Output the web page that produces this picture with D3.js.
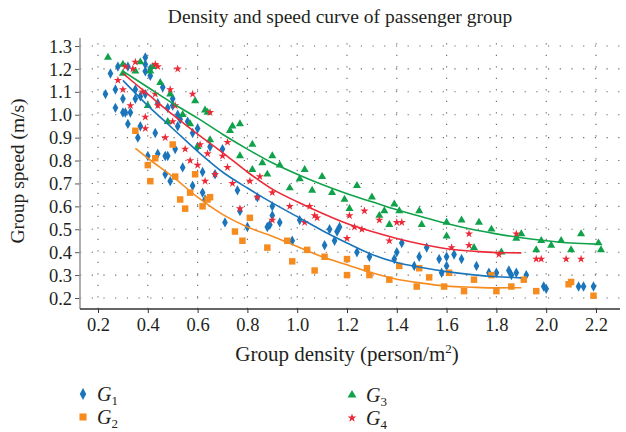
<!DOCTYPE html>
<html>
<head>
<meta charset="UTF-8" />
<title>Density and speed curve of passenger group</title>
<script src="https://d3js.org/d3.v7.min.js"></script>
<style>
  body { margin: 0; background: #fff; }
  text { font-family: "Liberation Serif", "DejaVu Serif", serif; fill: #231f20; }
</style>
</head>
<body>
<svg id="chart" width="626" height="432"></svg>
<script>
// tick values
const densityTicks = [0.2, 0.4, 0.6, 0.8, 1.0, 1.2, 1.4, 1.6, 1.8, 2.0, 2.2];
const speedTicks = [0.2, 0.3, 0.4, 0.5, 0.6, 0.7, 0.8, 0.9, 1.0, 1.1, 1.2, 1.3];

// measured points [density, speed]
const g1 = [[0.23,1.09],[0.25,1.18],[0.27,1.03],[0.27,1.11],[0.28,1.21],[0.30,1.07],[0.30,1.01],[0.31,1.01],[0.33,1.01],[0.32,0.96],
  [0.32,1.21],[0.35,1.11],[0.35,1.07],[0.36,0.90],[0.37,0.95],[0.37,1.08],[0.39,1.25],[0.39,1.22],[0.39,1.19],[0.39,1.09],
  [0.40,0.82],[0.41,1.20],[0.41,1.17],[0.43,0.92],[0.44,0.83],[0.44,1.05],[0.46,1.12],[0.47,0.82],[0.48,0.82],[0.48,1.03],
  [0.50,1.07],[0.50,1.04],[0.51,0.85],[0.52,1.00],[0.52,0.95],[0.53,0.98],[0.54,0.77],[0.56,0.97],[0.58,0.92],[0.60,0.94],
  [0.60,0.86],[0.62,0.75],[0.65,0.86],[0.67,0.74],[0.70,0.85],[0.47,0.74],[0.49,0.71],[0.58,0.69],[0.62,0.66],[0.63,0.63],
  [0.71,0.53],[0.76,0.67],[0.77,0.58],[0.80,0.51],[0.84,0.64],[0.88,0.51],[0.89,0.52],[0.90,0.60],[0.90,0.56],[0.93,0.53],
  [1.01,0.54],[0.98,0.45],[1.11,0.43],[1.13,0.50],[1.15,0.45],[1.16,0.49],[1.17,0.51],[1.24,0.40],[1.29,0.38],[1.39,0.37],
  [1.40,0.40],[1.42,0.44],[1.47,0.34],[1.49,0.38],[1.52,0.42],[1.57,0.37],[1.58,0.31],[1.60,0.38],[1.60,0.34],[1.63,0.39],
  [1.66,0.37],[1.72,0.34],[1.77,0.31],[1.80,0.31],[1.85,0.32],[1.86,0.30],[1.88,0.31],[1.92,0.30],[1.99,0.25],[2.00,0.24],
  [2.13,0.25],[2.15,0.25],[2.19,0.25]];
const g2 = [[0.35,0.93],[0.50,0.87],[0.43,0.81],[0.40,0.78],[0.59,0.74],[0.51,0.73],[0.41,0.71],[0.57,0.66],[0.53,0.63],[0.55,0.59],
  [0.62,0.60],[0.64,0.63],[0.65,0.64],[0.81,0.55],[0.75,0.49],[0.78,0.45],[0.88,0.42],[0.96,0.45],[0.98,0.36],[1.04,0.41],
  [1.07,0.32],[1.11,0.38],[1.20,0.37],[1.20,0.30],[1.28,0.33],[1.29,0.30],[1.37,0.28],[1.41,0.34],[1.48,0.25],[1.49,0.33],
  [1.53,0.29],[1.59,0.25],[1.61,0.31],[1.67,0.23],[1.71,0.28],[1.78,0.30],[1.80,0.23],[1.86,0.25],[1.91,0.28],[1.96,0.23],
  [2.09,0.26],[2.10,0.27],[2.19,0.21]];
const g3 = [[0.24,1.25],[0.30,1.22],[0.30,1.18],[0.35,1.19],[0.37,1.23],[0.41,1.19],[0.42,1.21],[0.45,1.14],[0.49,1.09],[0.40,1.04],
  [0.59,1.06],[0.54,1.00],[0.48,0.97],[0.57,0.96],[0.63,1.02],[0.64,1.01],[0.65,0.89],[0.73,0.93],[0.74,0.95],[0.77,0.96],
  [0.60,0.86],[0.77,0.82],[0.82,0.87],[0.86,0.79],[0.90,0.82],[0.82,0.76],[0.88,0.74],[0.93,0.78],[0.97,0.68],[1.01,0.72],
  [1.03,0.76],[1.06,0.67],[1.10,0.73],[1.14,0.66],[1.19,0.63],[1.21,0.59],[1.24,0.69],[1.30,0.64],[1.33,0.56],[1.35,0.58],
  [1.37,0.52],[1.39,0.61],[1.41,0.58],[1.49,0.58],[1.50,0.52],[1.60,0.53],[1.60,0.47],[1.66,0.54],[1.71,0.42],[1.73,0.53],
  [1.78,0.50],[1.82,0.40],[1.88,0.46],[1.90,0.48],[1.96,0.41],[1.98,0.45],[2.02,0.43],[2.06,0.45],[2.10,0.41],[2.14,0.48],
  [2.21,0.44],[2.22,0.41]];
const g4 = [[0.31,1.21],[0.28,1.15],[0.30,1.11],[0.34,1.20],[0.35,1.23],[0.33,1.04],[0.38,1.10],[0.39,0.99],[0.39,0.94],[0.43,1.22],
  [0.44,1.21],[0.43,1.09],[0.44,1.04],[0.52,1.20],[0.49,1.11],[0.51,1.04],[0.50,0.97],[0.47,0.90],[0.55,0.85],[0.57,0.80],
  [0.58,1.09],[0.65,1.01],[0.60,0.78],[0.61,0.87],[0.64,0.83],[0.67,0.74],[0.72,0.88],[0.72,0.77],[0.70,0.82],[0.85,0.73],
  [0.63,0.71],[0.74,0.70],[0.81,0.71],[0.90,0.66],[0.77,0.59],[0.90,0.54],[0.84,0.64],[0.97,0.60],[1.05,0.60],[1.07,0.56],
  [1.08,0.55],[1.21,0.56],[1.27,0.58],[1.33,0.54],[1.40,0.53],[1.42,0.53],[1.03,0.53],[1.20,0.46],[1.23,0.51],[1.26,0.50],
  [1.37,0.45],[1.69,0.48],[1.69,0.43],[1.62,0.42],[1.81,0.39],[1.88,0.48],[1.96,0.37],[1.98,0.37],[2.08,0.37],[2.14,0.37]];

// fitted curves
const fitDensity = [0.3, 0.4, 0.5, 0.6, 0.7, 0.8, 0.9, 1.0, 1.1, 1.2, 1.3, 1.4, 1.5, 1.6, 1.7, 1.8, 1.9];
const fit1 = [1.15, 1.04, 0.94, 0.84, 0.75, 0.68, 0.615, 0.555, 0.495, 0.44, 0.39, 0.355, 0.333, 0.315, 0.302, 0.293, 0.288];
const fit4 = [1.18, 1.09, 1.00, 0.915, 0.835, 0.75, 0.675, 0.62, 0.57, 0.525, 0.49, 0.46, 0.435, 0.415, 0.405, 0.398, 0.397];
const fit2Density = [0.35, 0.4, 0.5, 0.6, 0.7, 0.8, 0.9, 1.0, 1.1, 1.2, 1.3, 1.4, 1.5, 1.6, 1.7, 1.8, 1.9];
const fit2 = [0.853, 0.81, 0.73, 0.64, 0.565, 0.51, 0.47, 0.425, 0.38, 0.345, 0.31, 0.282, 0.265, 0.252, 0.247, 0.244, 0.245];
const fit3Density = [0.3, 0.4, 0.5, 0.6, 0.7, 0.8, 0.9, 1.0, 1.1, 1.2, 1.3, 1.4, 1.5, 1.6, 1.7, 1.8, 1.9, 2.0, 2.1, 2.2];
const fit3 = [1.19, 1.12, 1.05, 0.985, 0.915, 0.85, 0.79, 0.74, 0.695, 0.655, 0.62, 0.585, 0.555, 0.525, 0.50, 0.48, 0.463, 0.45, 0.44, 0.435];

const blue = "#1b75bb", orange = "#f68b1f", green = "#0fa24a", red = "#ec2a37";
const serif = "'Liberation Serif', 'DejaVu Serif', serif";

const svg = d3.select("#chart");
const x = d3.scaleLinear().domain([0.2, 2.2]).range([98, 596]);
const y = d3.scaleLinear().domain([0.2, 1.3]).range([298, 46]);
const plotLeft = 80, plotRight = 620, plotTop = 40, plotBottom = 309;

// dotted grid
svg.append("g").selectAll("line").data(speedTicks).join("line")
  .attr("x1", plotLeft).attr("x2", plotRight).attr("y1", d => y(d)).attr("y2", d => y(d))
  .attr("stroke", "#666").attr("stroke-width", 1.1).attr("stroke-dasharray", "1.2,10.5");
svg.append("g").selectAll("line").data(densityTicks).join("line")
  .attr("x1", d => x(d)).attr("x2", d => x(d)).attr("y1", plotBottom).attr("y2", plotTop)
  .attr("stroke", "#666").attr("stroke-width", 1.1).attr("stroke-dasharray", "1.2,10.3");

// axes
const yAxis = svg.append("g").attr("transform", `translate(${plotLeft},0)`)
  .call(d3.axisLeft(y).tickValues(speedTicks).tickFormat(d3.format(".1f")).tickSize(5).tickSizeOuter(0))
  .attr("font-family", serif).attr("font-size", 18.5);
yAxis.select(".domain").remove();
yAxis.selectAll(".tick line").attr("stroke", "#555");
yAxis.selectAll(".tick text").attr("x", -8).attr("dy", "0.33em").attr("fill", "#231f20");
svg.append("line").attr("x1", plotLeft).attr("x2", plotLeft).attr("y1", plotTop - 2).attr("y2", plotBottom)
  .attr("stroke", "#9a9a9a").attr("stroke-width", 1.6);

const xAxis = svg.append("g").attr("transform", `translate(0,${plotBottom})`)
  .call(d3.axisBottom(x).tickValues(densityTicks).tickFormat(d3.format(".1f")).tickSize(4).tickSizeOuter(0))
  .attr("font-family", serif).attr("font-size", 18.5);
xAxis.select(".domain").remove();
xAxis.selectAll(".tick line").attr("stroke", "#333");
xAxis.selectAll(".tick text").attr("y", 9).attr("fill", "#231f20");
svg.append("line").attr("x1", plotLeft).attr("x2", plotRight).attr("y1", plotBottom).attr("y2", plotBottom)
  .attr("stroke", "#333").attr("stroke-width", 1.4);

// symbols
const tallDiamond = {
  draw(ctx, size) {
    const h = Math.sqrt(size) * 0.75, w = h * 0.55;
    ctx.moveTo(0, -h); ctx.lineTo(w, 0); ctx.lineTo(0, h); ctx.lineTo(-w, 0); ctx.closePath();
  }
};
const groups = [
  { data: g1, color: blue, type: tallDiamond, size: 48 },
  { data: g2, color: orange, type: d3.symbolSquare, size: 42 },
  { data: g3, color: green, type: d3.symbolTriangle, size: 28 },
  { data: g4, color: red, type: d3.symbolStar, size: 21 }
];
groups.forEach(g => {
  svg.append("g").selectAll("path").data(g.data).join("path")
    .attr("transform", d => `translate(${x(d[0])},${y(d[1])})`)
    .attr("d", d3.symbol().type(g.type).size(g.size))
    .attr("fill", g.color);
});

// fitted lines
const line = d3.line().x(d => x(d[0])).y(d => y(d[1])).curve(d3.curveMonotoneX);
const fits = [
  { xs: fitDensity, ys: fit1, color: blue },
  { xs: fit2Density, ys: fit2, color: orange },
  { xs: fit3Density, ys: fit3, color: green },
  { xs: fitDensity, ys: fit4, color: red }
];
fits.forEach(f => {
  svg.append("path").attr("d", line(f.xs.map((v, i) => [v, f.ys[i]])))
    .attr("fill", "none").attr("stroke", f.color).attr("stroke-width", 1.6);
});

// titles
svg.append("text").attr("x", 340).attr("y", 23).attr("text-anchor", "middle")
  .style("font-size", "19.5px").text("Density and speed curve of passenger group");
svg.append("text").attr("transform", "translate(24,171) rotate(-90)").attr("text-anchor", "middle")
  .style("font-size", "19.5px").text("Group speed (m/s)");
const xt = svg.append("text").attr("x", 347).attr("y", 361).attr("text-anchor", "middle")
  .style("font-size", "21px");
xt.append("tspan").text("Group density (person/m");
xt.append("tspan").attr("dy", -8).style("font-size", "13px").text("2");
xt.append("tspan").attr("dy", 8).text(")");

// legend
const legend = [
  { label: "1", color: blue, type: tallDiamond, size: 62, lx: 83, ly: 394 },
  { label: "2", color: orange, type: d3.symbolSquare, size: 50, lx: 83, ly: 417 },
  { label: "3", color: green, type: d3.symbolTriangle, size: 34, lx: 352, ly: 395 },
  { label: "4", color: red, type: d3.symbolStar, size: 24, lx: 352, ly: 418 }
];
legend.forEach(l => {
  svg.append("path").attr("transform", `translate(${l.lx},${l.ly})`)
    .attr("d", d3.symbol().type(l.type).size(l.size)).attr("fill", l.color);
  const t = svg.append("text").attr("x", l.lx + 14).attr("y", l.ly + 7).style("font-size", "20px");
  t.append("tspan").style("font-style", "italic").text("G");
  t.append("tspan").attr("dy", 4).style("font-size", "13px").text(l.label);
});
</script>
</body>
</html>
